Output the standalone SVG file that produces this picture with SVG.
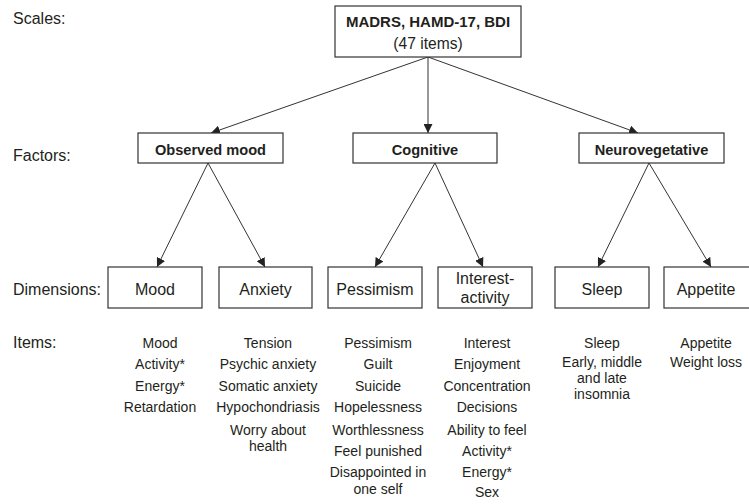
<svg xmlns="http://www.w3.org/2000/svg" width="749" height="504" viewBox="0 0 749 504">
<defs>
<marker id="ah" markerUnits="userSpaceOnUse" markerWidth="9" markerHeight="9" viewBox="0 0 9 9" refX="9" refY="4.5" orient="auto">
<path d="M0,0 L9,4.5 L0,9 z" fill="#222"/>
</marker>
</defs>
<style>
text{font-family:"Liberation Sans",Arial,sans-serif;fill:#231f20}
.lab{font-size:16px}
.box{fill:#fff;stroke:#333;stroke-width:1.2}
.fac{font-size:14.6px;font-weight:bold;text-anchor:middle}
.dim{font-size:16px;text-anchor:middle}
.it{font-size:14px;text-anchor:middle}
.con line{stroke:#333;stroke-width:1;marker-end:url(#ah)}
</style>
<rect width="749" height="504" fill="#fff"/>
<g id="row-labels">
<text class="lab" x="13" y="24">Scales:</text>
<text class="lab" x="13" y="161">Factors:</text>
<text class="lab" x="13" y="295">Dimensions:</text>
<text class="lab" x="13" y="348">Items:</text>
</g>
<g class="con" id="connectors">
<line x1="428" y1="57" x2="211" y2="133"/>
<line x1="428" y1="57" x2="428" y2="133"/>
<line x1="428" y1="57" x2="638" y2="133"/>
<line x1="208" y1="163" x2="157" y2="267"/>
<line x1="208" y1="163" x2="265" y2="267"/>
<line x1="435" y1="163" x2="375" y2="267"/>
<line x1="435" y1="163" x2="483" y2="267"/>
<line x1="649" y1="163" x2="598" y2="267"/>
<line x1="649" y1="163" x2="711" y2="267"/>
</g>
<g id="scales">
<rect class="box" x="335" y="6" width="186" height="51"/>
<text x="428" y="27" style="font-size:15px;font-weight:bold;text-anchor:middle">MADRS, HAMD-17, BDI</text>
<text x="428" y="48.5" style="font-size:15.6px;text-anchor:middle">(47 items)</text>
</g>
<g id="observed-mood">
<rect class="box" x="138" y="133" width="145" height="30"/>
<text class="fac" x="210.5" y="155">Observed mood</text>
</g>
<g id="cognitive">
<rect class="box" x="353" y="133" width="144" height="30"/>
<text class="fac" x="425" y="155">Cognitive</text>
</g>
<g id="neurovegetative">
<rect class="box" x="579" y="133" width="145" height="30"/>
<text class="fac" x="651.5" y="155">Neurovegetative</text>
</g>
<g id="mood">
<rect class="box" x="108" y="267" width="94" height="41"/>
<text class="dim" x="155" y="295">Mood</text>
</g>
<g id="anxiety">
<rect class="box" x="219" y="267" width="93" height="41"/>
<text class="dim" x="265.5" y="295">Anxiety</text>
</g>
<g id="pessimism">
<rect class="box" x="328" y="267" width="94" height="41"/>
<text class="dim" x="375" y="295">Pessimism</text>
</g>
<g id="interest-activity">
<rect class="box" x="438" y="267" width="94" height="41"/>
<text class="dim" x="485" y="284">Interest-</text>
<text class="dim" x="485" y="303">activity</text>
</g>
<g id="sleep">
<rect class="box" x="555" y="267" width="94" height="41"/>
<text class="dim" x="602" y="295">Sleep</text>
</g>
<g id="appetite">
<rect class="box" x="664" y="267" width="96" height="41"/>
<text class="dim" x="706" y="295">Appetite</text>
</g>
<g id="items-mood">
<text class="it" x="160" y="348">Mood</text>
<text class="it" x="160" y="369">Activity*</text>
<text class="it" x="160" y="391">Energy*</text>
<text class="it" x="160" y="412">Retardation</text>
</g>
<g id="items-anxiety">
<text class="it" x="268" y="348">Tension</text>
<text class="it" x="268" y="369">Psychic anxiety</text>
<text class="it" x="268" y="391">Somatic anxiety</text>
<text class="it" x="268" y="412">Hypochondriasis</text>
<text class="it" x="268" y="435">Worry about</text>
<text class="it" x="268" y="451">health</text>
</g>
<g id="items-pessimism">
<text class="it" x="378" y="348">Pessimism</text>
<text class="it" x="378" y="369">Guilt</text>
<text class="it" x="378" y="391">Suicide</text>
<text class="it" x="378" y="412">Hopelessness</text>
<text class="it" x="378" y="435">Worthlessness</text>
<text class="it" x="378" y="456">Feel punished</text>
<text class="it" x="378" y="477">Disappointed in</text>
<text class="it" x="378" y="494">one self</text>
</g>
<g id="items-interest">
<text class="it" x="487" y="348">Interest</text>
<text class="it" x="487" y="369">Enjoyment</text>
<text class="it" x="487" y="391">Concentration</text>
<text class="it" x="487" y="412">Decisions</text>
<text class="it" x="487" y="435">Ability to feel</text>
<text class="it" x="487" y="456">Activity*</text>
<text class="it" x="487" y="477">Energy*</text>
<text class="it" x="487" y="497">Sex</text>
</g>
<g id="items-sleep">
<text class="it" x="602" y="348">Sleep</text>
<text class="it" x="602" y="367">Early, middle</text>
<text class="it" x="602" y="383">and late</text>
<text class="it" x="602" y="399">insomnia</text>
</g>
<g id="items-appetite">
<text class="it" x="706" y="348">Appetite</text>
<text class="it" x="706" y="367">Weight loss</text>
</g>
</svg>
